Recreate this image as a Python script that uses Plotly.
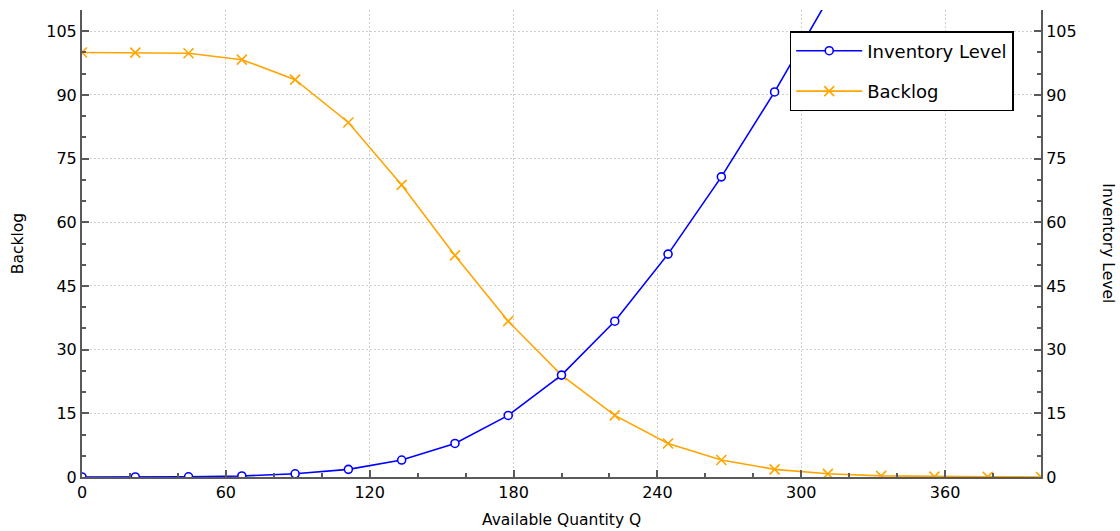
import plotly.graph_objects as go

quantity = [0, 22.22, 44.44, 66.67, 88.89, 111.11, 133.33, 155.56, 177.78, 200,
            222.22, 244.44, 266.67, 288.89, 311.11, 333.33, 355.56, 377.78, 400]
backlog = [100.0, 99.97, 99.8, 98.3, 93.6, 83.5, 68.8, 52.2, 36.7, 24.0,
           14.5, 7.9, 4.0, 1.8, 0.75, 0.27, 0.09, 0.03, 0.01]
inventory = [0.0, 0.01, 0.05, 0.25, 0.75, 1.8, 4.0, 7.9, 14.5, 24.0,
             36.7, 52.5, 70.7, 90.7, 111.9, 133.6, 155.7, 177.8, 200.0]
x_ticks = [0, 60, 120, 180, 240, 300, 360]
y_ticks = [0, 15, 30, 45, 60, 75, 90, 105]

FONT = "DejaVu Sans"
AXC = "#5a5a5a"
GRID = "#cfcfcf"

fig = go.Figure()
fig.add_trace(go.Scatter(
    x=quantity, y=inventory, name="Inventory Level", yaxis="y2",
    mode="lines+markers", legendgroup="inv",
    line=dict(color="#0000ff", width=1.6),
    marker=dict(symbol="circle", size=8, color="white",
                line=dict(color="#0000ff", width=1.6)),
))
fig.add_trace(go.Scatter(
    x=quantity, y=backlog, name="Backlog", yaxis="y",
    mode="lines+markers", legendgroup="bl",
    line=dict(color="#ffa500", width=1.6),
    marker=dict(symbol="x-thin", size=10, color="#ffa500",
                line=dict(color="#ffa500", width=1.6)),
))

common_y = dict(
    range=[0, 110], tickvals=y_ticks, ticks="inside", ticklen=7, tickwidth=1.5,
    tickcolor=AXC, showline=True, linecolor=AXC, linewidth=2,
    showgrid=True, gridcolor=GRID, griddash="2px,2px", gridwidth=1,
    zeroline=False, tickfont=dict(family=FONT, size=16, color="black"),
    minor=dict(dtick=5, tick0=0, ticks="inside", ticklen=4, tickcolor=AXC, showgrid=False),
    fixedrange=True, automargin=False,
)

fig.update_layout(
    width=1120, height=531,
    margin=dict(l=82, r=79, t=10, b=54),
    paper_bgcolor="white", plot_bgcolor="white",
    font=dict(family=FONT, size=15, color="black"),
    xaxis=dict(
        range=[0, 400], tickvals=x_ticks, ticks="inside", ticklen=7, tickwidth=1.5,
        tickcolor=AXC, showline=True, linecolor=AXC, linewidth=2,
        showgrid=True, gridcolor=GRID, griddash="2px,2px", gridwidth=1,
        zeroline=False, tickfont=dict(family=FONT, size=16, color="black"),
        minor=dict(dtick=20, tick0=0, ticks="inside", ticklen=4, tickcolor=AXC, showgrid=False),
        automargin=False,
    ),
    yaxis=dict(side="left", **common_y),
    yaxis2=dict(side="right", overlaying="y", **common_y),
    legend=dict(
        x=0.738, y=0.955, xanchor="left", yanchor="top",
        bgcolor="white", bordercolor="black", borderwidth=1.5,
        font=dict(family=FONT, size=18, color="black"),
        tracegroupgap=14, itemwidth=66,
    ),
    showlegend=True,
    annotations=[
        dict(text="Available Quantity Q", xref="paper", yref="paper", x=0.5, y=-0.092,
             showarrow=False, font=dict(family=FONT, size=15.5),
             xanchor="center", yanchor="middle"),
        dict(text="Backlog", xref="paper", yref="paper", x=-0.067, y=0.5,
             showarrow=False, textangle=-90, font=dict(family=FONT, size=15.5),
             xanchor="center", yanchor="middle"),
        dict(text="Inventory Level", xref="paper", yref="paper", x=1.07, y=0.5,
             showarrow=False, textangle=90, font=dict(family=FONT, size=15.5),
             xanchor="center", yanchor="middle"),
    ],
)

fig.write_html("out.html")
